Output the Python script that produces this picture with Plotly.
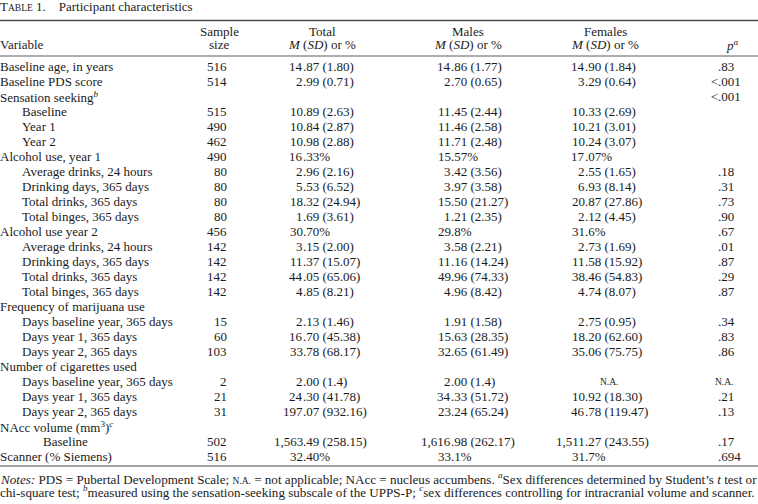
import plotly.graph_objects as go

W, H = 758, 504
FONT = "Liberation Serif"
FS = 13
INK = "#1b1b1b"

NA = '<span style="font-size:9.5px">N.A.</span>'

variables = [
    "Baseline age, in years", "Baseline PDS score", "Sensation seeking<sup><i>b</i></sup>",
    "Baseline", "Year 1", "Year 2",
    "Alcohol use, year 1", "Average drinks, 24 hours", "Drinking days, 365 days",
    "Total drinks, 365 days", "Total binges, 365 days",
    "Alcohol use year 2", "Average drinks, 24 hours", "Drinking days, 365 days",
    "Total drinks, 365 days", "Total binges, 365 days",
    "Frequency of marijuana use", "Days baseline year, 365 days", "Days year 1, 365 days",
    "Days year 2, 365 days",
    "Number of cigarettes used", "Days baseline year, 365 days", "Days year 1, 365 days",
    "Days year 2, 365 days",
    "NAcc volume (mm<sup>3</sup>)<sup><i>c</i></sup>", "Baseline",
    "Scanner (% Siemens)",
]
indent = [0, 0, 0, 1, 1, 1, 0, 1, 1, 1, 1, 0, 1, 1, 1, 1, 0, 1, 1, 1, 0, 1, 1, 1, 0, 2, 0]
sample_size = ["516", "514", "", "515", "490", "462", "490", "80", "80", "80", "80",
               "456", "142", "142", "142", "142", "", "15", "60", "103", "", "2", "21", "31",
               "", "502", "516"]
total = ["14.87 (1.80)", "2.99 (0.71)", "", "10.89 (2.63)", "10.84 (2.87)", "10.98 (2.88)",
         "16.33%", "2.96 (2.16)", "5.53 (6.52)", "18.32 (24.94)", "1.69 (3.61)",
         "30.70%", "3.15 (2.00)", "11.37 (15.07)", "44.05 (65.06)", "4.85 (8.21)",
         "", "2.13 (1.46)", "16.70 (45.38)", "33.78 (68.17)",
         "", "2.00 (1.4)", "24.30 (41.78)", "197.07 (932.16)",
         "", "1,563.49 (258.15)", "32.40%"]
males = ["14.86 (1.77)", "2.70 (0.65)", "", "11.45 (2.44)", "11.46 (2.58)", "11.71 (2.48)",
         "15.57%", "3.42 (3.56)", "3.97 (3.58)", "15.50 (21.27)", "1.21 (2.35)",
         "29.8%", "3.58 (2.21)", "11.16 (14.24)", "49.96 (74.33)", "4.96 (8.42)",
         "", "1.91 (1.58)", "15.63 (28.35)", "32.65 (61.49)",
         "", "2.00 (1.4)", "34.33 (51.72)", "23.24 (65.24)",
         "", "1,616.98 (262.17)", "33.1%"]
females = ["14.90 (1.84)", "3.29 (0.64)", "", "10.33 (2.69)", "10.21 (3.01)", "10.24 (3.07)",
           "17.07%", "2.55 (1.65)", "6.93 (8.14)", "20.87 (27.86)", "2.12 (4.45)",
           "31.6%", "2.73 (1.69)", "11.58 (15.92)", "38.46 (54.83)", "4.74 (8.07)",
           "", "2.75 (0.95)", "18.20 (62.60)", "35.06 (75.75)",
           "", "N.A.", "10.92 (18.30)", "46.78 (119.47)",
           "", "1,511.27 (243.55)", "31.7%"]
p_values = [".83", "<.001", "<.001", "", "", "", "", ".18", ".31", ".73", ".90",
            ".67", ".01", ".87", ".29", ".87", "", ".34", ".83", ".86",
            "", "N.A.", ".21", ".13", "", ".17", ".694"]

header_line1 = ["", "Sample", "Total", "Males", "Females", ""]
header_line2 = ["Variable", "size", "<i>M</i> (<i>SD</i>) or %", "<i>M</i> (<i>SD</i>) or %",
                "<i>M</i> (<i>SD</i>) or %", "<i>p<sup>a</sup></i>"]

title = ('T<span style="font-size:9.5px">ABLE</span> 1.&nbsp;&nbsp;&nbsp; Participant characteristics')
notes1 = ("<i>Notes:</i> PDS = Pubertal Development Scale; " + NA +
          " = not applicable; NAcc = nucleus accumbens. <sup><i>a</i></sup>Sex differences "
          "determined by Student’s <i>t</i> test or")
notes2 = ("chi-square test; <sup><i>b</i></sup>measured using the sensation-seeking subscale "
          "of the UPPS-P; <sup><i>c</i></sup>sex differences controlling for intracranial "
          "volume and scanner.")

# layout geometry (pixels)
ROW0, ROWH = 66.5, 15.0
X_VAR = 0
IND = 21.5
X_N_RIGHT = 227
DEC = {"total": 302.5, "males": 451, "females": 585, "p": 718}
HDR_X = [0, 219, 322, 468, 605, 732]

fig = go.Figure()
fig.add_trace(go.Scatter(x=[0, W], y=[0, H], mode="markers",
                         marker=dict(opacity=0), hoverinfo="skip", showlegend=False))

ann = []


def txt(x, y, s, anchor="left", size=FS):
    ann.append(dict(x=x, y=y, xref="x", yref="y", text=s, showarrow=False,
                    xanchor=anchor, yanchor="middle", borderpad=0, borderwidth=0,
                    font=dict(family=FONT, size=size, color=INK)))


def dec_cell(xdec, y, s):
    if not s:
        return
    if s == "N.A.":
        txt(xdec + 24 if xdec < 700 else xdec + 6, y, NA, "center")
        return
    i = s.find(".")
    left, right = s[:i], s[i:]
    if left:
        txt(xdec, y, left, "right")
    txt(xdec, y, right, "left")


txt(0, 6.5, title)
for k, h in enumerate(header_line1):
    if h:
        txt(HDR_X[k], 31, h, "center")
for k, h in enumerate(header_line2):
    if k == 0:
        txt(HDR_X[k], 44.5, h, "left")
    else:
        txt(HDR_X[k], 44.5, h, "center")

for r in range(len(variables)):
    y = ROW0 + r * ROWH
    txt(X_VAR + indent[r] * IND, y, variables[r])
    if sample_size[r]:
        txt(X_N_RIGHT, y, sample_size[r], "right")
    dec_cell(DEC["total"], y, total[r])
    dec_cell(DEC["males"], y, males[r])
    dec_cell(DEC["females"], y, females[r])
    dec_cell(DEC["p"], y, p_values[r])

txt(0, 478.5, notes1, size=13.1)
txt(0, 491.5, notes2, size=13.1)

shapes = []
for yy, wd in [(20.5, 1.6), (56, 0.9), (466, 1.2)]:
    shapes.append(dict(type="line", xref="x", yref="y", x0=0, x1=W, y0=yy, y1=yy,
                       line=dict(color="#4a4a4a", width=wd)))

fig.update_layout(
    width=W, height=H, margin=dict(l=0, r=0, t=0, b=0),
    paper_bgcolor="white", plot_bgcolor="white",
    xaxis=dict(range=[0, W], visible=False, fixedrange=True),
    yaxis=dict(range=[H, 0], visible=False, fixedrange=True),
    annotations=ann, shapes=shapes, showlegend=False,
)
fig.write_html("out.html", config={"displayModeBar": False},
               post_script="document.body.style.margin='0';document.body.style.overflow='hidden';")
